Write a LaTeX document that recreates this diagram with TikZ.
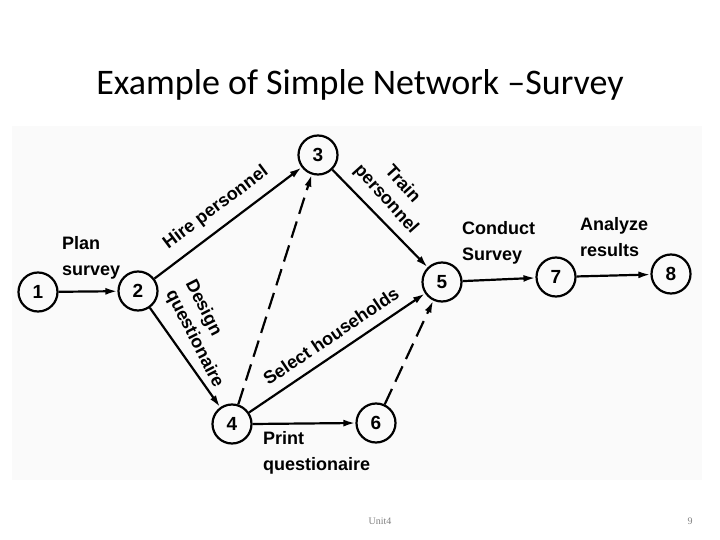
\documentclass[tikz,border=0pt]{standalone}
\usepackage{fontspec}
\setmainfont{Carlito}
\newfontfamily\labfont{Liberation Sans}
\newfontfamily\footfont{Liberation Serif}
\usetikzlibrary{arrows.meta}
\begin{document}
\begin{tikzpicture}[x=1pt,y=1pt,
  ev/.style={circle,draw,line width=2.2pt,minimum size=39pt,inner sep=0pt,font=\labfont\bfseries\fontsize{19}{19}\selectfont},
  act/.style={line width=2.2pt,-{Latex[length=12pt,width=7pt]}},
  dum/.style={act,dash pattern=on 17pt off 8pt},
  lab/.style={font=\labfont\bfseries\fontsize{18}{26}\selectfont,align=left,inner sep=0pt},
  rlab/.style={font=\labfont\bfseries\fontsize{18}{22}\selectfont,align=left,inner sep=0pt}]
\useasboundingbox (0,0) rectangle (720,-540);
\fill[gray!4] (12,-126) rectangle (702,-480);
\node[font=\fontsize{36}{40}\selectfont] (title) at (360,-85) {Example of Simple Network –Survey};
\node[font=\footfont\fontsize{10}{12}\selectfont,text=gray] (unit) at (380,-521) {Unit4};
\node[font=\footfont\fontsize{10}{12}\selectfont,text=gray] (pg) at (690,-521) {9};
\node[ev] (n1) at (38,-292) {1};
\node[ev] (n2) at (138,-291) {2};
\node[ev] (n3) at (318,-155) {3};
\node[ev] (n4) at (232,-424) {4};
\node[ev] (n5) at (442,-282) {5};
\node[ev] (n6) at (376,-423) {6};
\node[ev] (n7) at (556,-277) {7};
\node[ev] (n8) at (671,-274) {8};
\draw[act] (n1) -- (n2);
\draw[act] (n2) -- (n3);
\draw[act] (n2) -- (n4);
\draw[act] (n3) -- (n5);
\draw[act] (n4) -- (n5);
\draw[act] (n4.east) -- (n6.west);
\draw[act] (n5) -- (n7);
\draw[act] (n7) -- (n8);
\draw[dum] (n4) -- (n3);
\draw[dum] (n6) -- (n5);
\node[lab,anchor=north west] (l12) at (62,-236) {Plan\\survey};
\node[rlab,rotate=37] (l23) at (216,-208) {Hire personnel};
\node[rlab,rotate=-48,align=center] (l35) at (394,-192) {Train\\personnel};
\node[rlab,rotate=-63,align=left] (l24) at (204,-334) {Design\\questionaire};
\node[rlab,rotate=34] (l45) at (331,-336) {Select households};
\node[lab,anchor=north west] (l57) at (462,-221) {Conduct\\Survey};
\node[lab,anchor=north west] (l78) at (580,-217) {Analyze\\results};
\node[lab,anchor=north west] (l46) at (263,-431) {Print\\questionaire};
\end{tikzpicture}
\end{document}
